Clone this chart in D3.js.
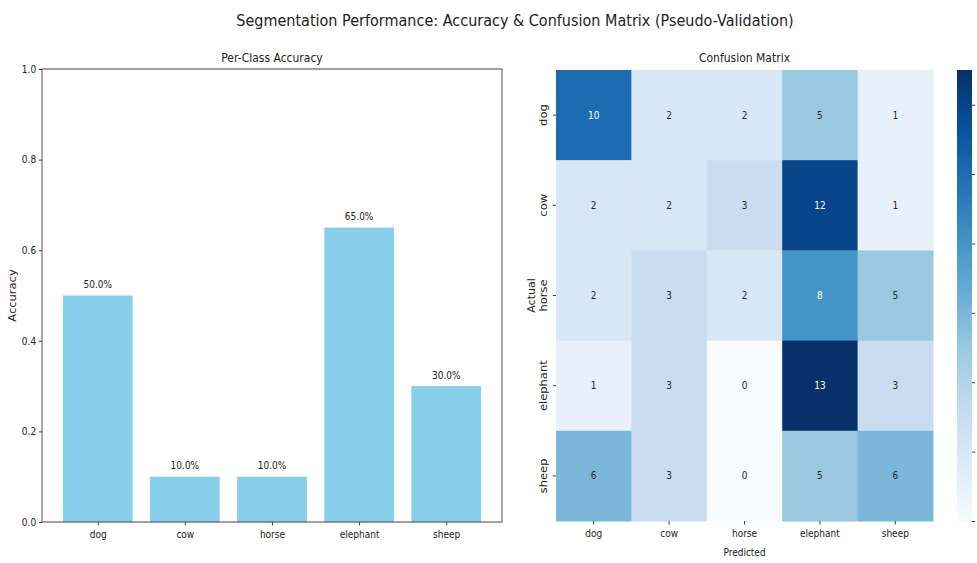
<!DOCTYPE html>
<html><head><meta charset="utf-8">
<script src="https://cdn.jsdelivr.net/npm/d3@7"></script>
<style>body{margin:0;background:#fff} svg{display:block}</style></head>
<body>
<svg id="c"></svg>
<script>
// ---- data ----
const categories = ["dog","cow","horse","elephant","sheep"];
const accuracy = [0.50, 0.10, 0.10, 0.65, 0.30];
const accTicks = [0, 0.2, 0.4, 0.6, 0.8, 1.0];
const confusion = [
  [10, 2, 2, 5, 1],
  [2, 2, 3, 12, 1],
  [2, 3, 2, 8, 5],
  [1, 3, 0, 13, 3],
  [6, 3, 0, 5, 6]
];
const cbarTicks = [0, 2, 4, 6, 8, 10, 12];
const cmapMax = 13;
const bluesStops = ["#f7fbff","#deebf7","#c6dbef","#9ecae1","#6baed6","#4292c6","#2171b5","#08519c","#08306b"];

// ---- layout ----
const W = 977, H = 563, k = 0.9;
const X = v => v / k;
const FONT = "DejaVu Sans, sans-serif";
const svg = d3.select("#c").attr("width", W).attr("height", H)
  .attr("viewBox", `0 0 ${W / k} ${H}`).attr("preserveAspectRatio", "none")
  .style("font-family", FONT);

svg.append("text").attr("x", X(515)).attr("y", 26).attr("text-anchor", "middle")
  .attr("font-size", 16).attr("fill", "#222")
  .text("Segmentation Performance: Accuracy & Confusion Matrix (Pseudo-Validation)");

// ---- left: bar chart ----
const L = {l: 42, r: 502, t: 69, b: 522};
const xb = d3.scaleLinear().domain([-0.64, 4.64]).range([X(L.l), X(L.r)]);
const yb = d3.scaleLinear().domain([0, 1]).range([L.b, L.t]);
const gL = svg.append("g");

gL.selectAll("rect.bar").data(accuracy).join("rect").attr("class", "bar")
  .attr("x", (d, i) => xb(i - 0.4)).attr("width", (d, i) => xb(i + 0.4) - xb(i - 0.4))
  .attr("y", d => yb(d)).attr("height", d => yb(0) - yb(d)).attr("fill", "#87ceeb");

gL.selectAll("text.lab").data(accuracy).join("text").attr("class", "lab")
  .attr("x", (d, i) => xb(i)).attr("y", d => yb(d + 0.01) - 3).attr("text-anchor", "middle")
  .attr("font-size", 10).attr("fill", "#222").text(d => (d * 100).toFixed(1) + "%");

const yAx = gL.append("g").attr("transform", `translate(${X(L.l)},0)`)
  .call(d3.axisLeft(yb).tickValues(accTicks).tickFormat(d3.format(".1f")).tickSize(3.5).tickPadding(3));
const xAx = gL.append("g").attr("transform", `translate(0,${L.b})`)
  .call(d3.axisBottom(xb).tickValues(d3.range(categories.length)).tickFormat(i => categories[i]).tickSize(3.5).tickPadding(5));
[yAx, xAx].forEach(a => {
  a.select(".domain").remove();
  a.selectAll("line").attr("stroke", "#333");
  a.selectAll("text").attr("font-size", 10).attr("fill", "#222").attr("font-family", FONT);
});
gL.append("rect").attr("x", X(L.l)).attr("y", L.t).attr("width", X(L.r) - X(L.l)).attr("height", L.b - L.t)
  .attr("fill", "none").attr("stroke", "#444").attr("stroke-width", 1);
gL.append("text").attr("x", X((L.l + L.r) / 2)).attr("y", 62).attr("text-anchor", "middle")
  .attr("font-size", 12).attr("fill", "#222").text("Per-Class Accuracy");
gL.append("text").attr("transform", `translate(${X(16)},${(L.t + L.b) / 2}) rotate(-90)`)
  .attr("text-anchor", "middle").attr("font-size", 11.5).attr("fill", "#222").text("Accuracy");

// ---- right: heatmap ----
const R = {l: 556, r: 933, t: 70, b: 521};
const xh = d3.scaleBand().domain(categories).range([X(R.l), X(R.r)]);
const yh = d3.scaleBand().domain(categories).range([R.t, R.b]);
const color = d3.scaleLinear().domain(bluesStops.map((c, i) => i / (bluesStops.length - 1) * cmapMax))
  .range(bluesStops).interpolate(d3.interpolateRgb).clamp(true);
const cells = [];
confusion.forEach((row, i) => row.forEach((v, j) => cells.push({a: categories[i], p: categories[j], v})));
const gR = svg.append("g");
gR.selectAll("rect.cell").data(cells).join("rect").attr("class", "cell")
  .attr("x", d => xh(d.p)).attr("y", d => yh(d.a))
  .attr("width", xh.bandwidth() + 0.5).attr("height", yh.bandwidth() + 0.5)
  .attr("fill", d => color(d.v));
function lum(c) {
  const r = d3.rgb(c);
  const f = u => { u /= 255; return u <= 0.03928 ? u / 12.92 : Math.pow((u + 0.055) / 1.055, 2.4); };
  return 0.2126 * f(r.r) + 0.7152 * f(r.g) + 0.0722 * f(r.b);
}
gR.selectAll("text.ann").data(cells).join("text").attr("class", "ann")
  .attr("x", d => xh(d.p) + xh.bandwidth() / 2).attr("y", d => yh(d.a) + yh.bandwidth() / 2 + 3.5)
  .attr("text-anchor", "middle").attr("font-size", 10)
  .attr("fill", d => lum(color(d.v)) > 0.408 ? "#262626" : "#ffffff").text(d => d.v);

const hx = gR.append("g").attr("transform", `translate(0,${R.b})`)
  .call(d3.axisBottom(xh).tickSize(3.5).tickPadding(5));
const hy = gR.append("g").attr("transform", `translate(${X(R.l)},0)`)
  .call(d3.axisLeft(yh).tickSize(3.5).tickPadding(3));
[hx, hy].forEach(a => {
  a.select(".domain").remove();
  a.selectAll("line").attr("stroke", "#333");
  a.selectAll("text").attr("fill", "#222").attr("font-family", FONT);
});
hx.selectAll("text").attr("font-size", 10);
hy.selectAll("text").attr("font-size", 11.5).attr("text-anchor", "middle")
  .attr("x", 0).attr("y", 0).attr("dy", 0)
  .attr("transform", `translate(${-X(9)},0) rotate(-90)`);
gR.append("text").attr("x", X((R.l + R.r) / 2)).attr("y", 40 + 516).attr("text-anchor", "middle")
  .attr("font-size", 10).attr("fill", "#222").text("Predicted");
gR.append("text").attr("x", X((R.l + R.r) / 2)).attr("y", 62).attr("text-anchor", "middle")
  .attr("font-size", 12).attr("fill", "#222").text("Confusion Matrix");
gR.append("text").attr("transform", `translate(${X(535)},${(R.t + R.b) / 2}) rotate(-90)`)
  .attr("text-anchor", "middle").attr("font-size", 11).attr("fill", "#222").text("Actual");

// ---- colorbar (labels fall outside the 977px frame, as in the reference) ----
const C = {l: 957, r: 972};
const cy = d3.scaleLinear().domain([0, cmapMax]).range([R.b, R.t]);
const grad = svg.append("defs").append("linearGradient").attr("id", "cb")
  .attr("x1", 0).attr("y1", 1).attr("x2", 0).attr("y2", 0);
grad.selectAll("stop").data(bluesStops).join("stop")
  .attr("offset", (d, i) => i / (bluesStops.length - 1)).attr("stop-color", d => d);
svg.append("rect").attr("x", X(C.l)).attr("y", R.t).attr("width", X(C.r) - X(C.l)).attr("height", R.b - R.t)
  .attr("fill", "url(#cb)");
const cax = svg.append("g").attr("transform", `translate(${X(C.r)},0)`)
  .call(d3.axisRight(cy).tickValues(cbarTicks).tickSize(3.5).tickFormat(""));
cax.select(".domain").remove();
cax.selectAll("line").attr("stroke", "#333");
</script>
</body></html>
